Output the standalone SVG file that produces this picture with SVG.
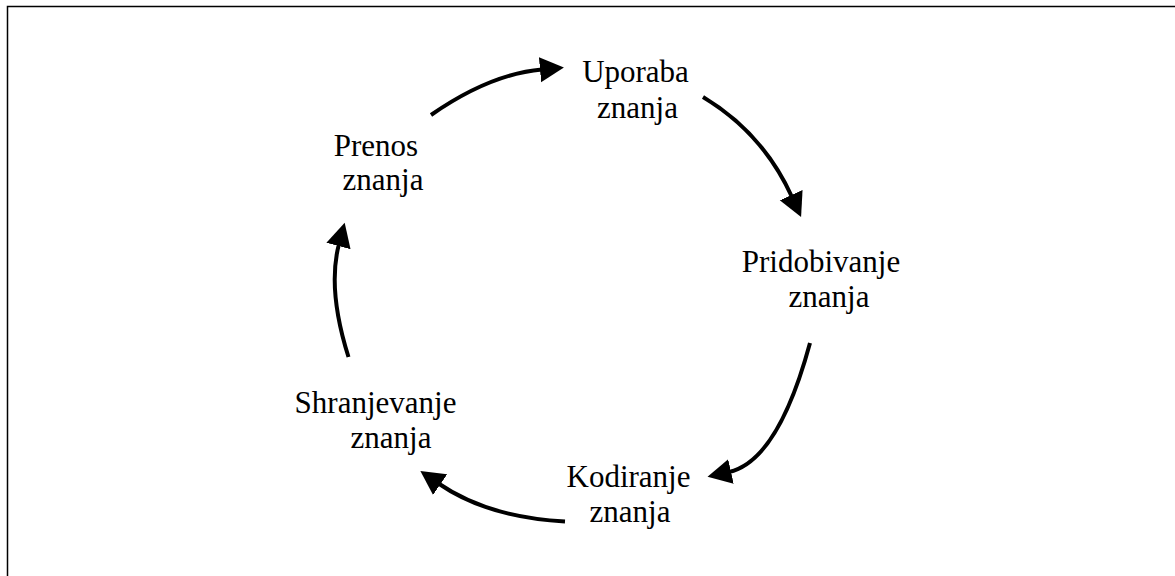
<svg xmlns="http://www.w3.org/2000/svg" width="1175" height="576" viewBox="0 0 1175 576">
  <style>
    .label { font-family: "Liberation Serif", "Times New Roman", serif; font-size: 31px; fill: #000; text-anchor: middle; }
    .flow { fill: none; stroke: #000; stroke-width: 4; marker-end: url(#head); }
  </style>
  <defs>
    <marker id="head" markerUnits="userSpaceOnUse" markerWidth="30" markerHeight="30" viewBox="0 -15 30 30" refX="2" refY="0" orient="auto">
      <path d="M0,-12.5 L24,0 L0,12.5 Z" fill="#000"/>
    </marker>
  </defs>

  <rect x="7.5" y="6.5" width="1200" height="600" fill="#fff" stroke="#000" stroke-width="1.5"/>

  <!-- knowledge cycle arrows -->
  <g id="connectors">
    <path class="flow" d="M431,115 Q490,74 542,69.5"/>
    <path class="flow" d="M703,97 Q763,133 792,197"/>
    <path class="flow" d="M810,343 Q778,461 729,472"/>
    <path class="flow" d="M565,521.5 Q488,517.5 438.5,483.5"/>
    <path class="flow" d="M348.5,357 Q327,289 339,244"/>
  </g>

  <g id="uporaba">
    <text class="label"><tspan x="635.5" y="82">Uporaba</tspan><tspan x="637.5" y="117.5">znanja</tspan></text>
  </g>
  <g id="pridobivanje">
    <text class="label"><tspan x="821" y="272">Pridobivanje</tspan><tspan x="829" y="307">znanja</tspan></text>
  </g>
  <g id="kodiranje">
    <text class="label"><tspan x="628.5" y="487">Kodiranje</tspan><tspan x="630" y="522">znanja</tspan></text>
  </g>
  <g id="shranjevanje">
    <text class="label"><tspan x="375.5" y="413">Shranjevanje</tspan><tspan x="391" y="448">znanja</tspan></text>
  </g>
  <g id="prenos">
    <text class="label"><tspan x="376" y="156">Prenos</tspan><tspan x="383" y="190">znanja</tspan></text>
  </g>
</svg>
